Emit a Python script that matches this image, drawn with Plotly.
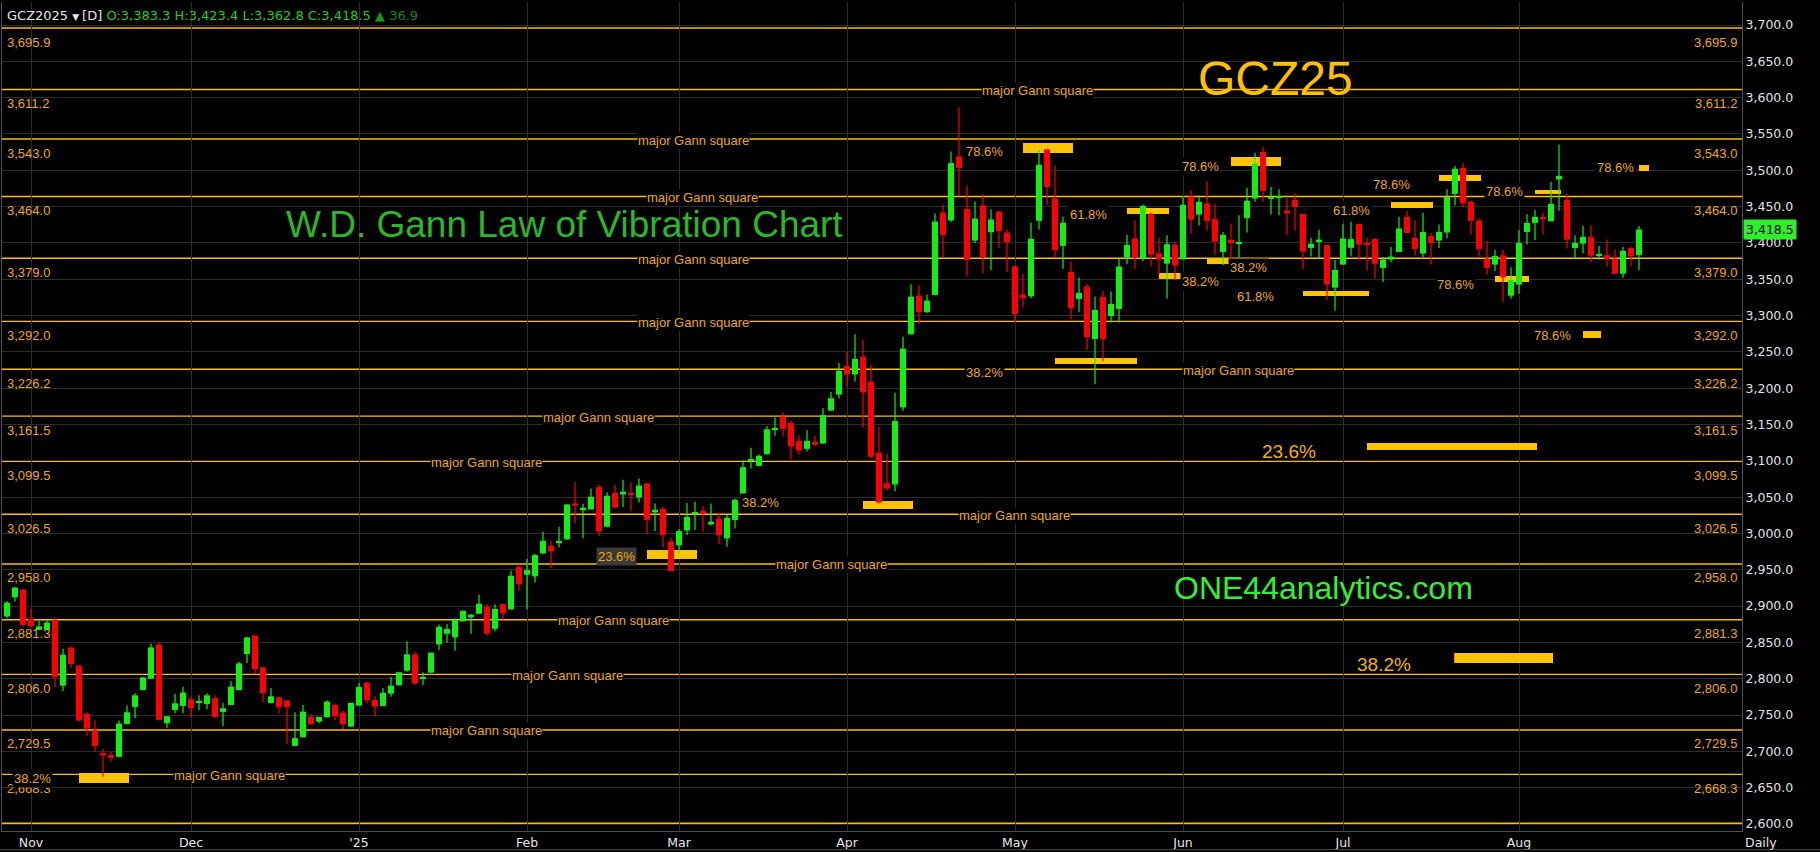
import pandas as pd
import plotly.graph_objects as go

# ---------------- data ----------------
holidays = ["2024-11-28", "2024-12-25", "2025-01-01", "2025-01-20", "2025-02-17",
            "2025-04-18", "2025-05-26", "2025-06-19", "2025-07-04"]
dates = [d for d in pd.bdate_range("2024-10-29", "2025-08-22")
         if d.strftime("%Y-%m-%d") not in holidays]

open_ = [2885.7, 2912.2, 2922.8, 2882.5, 2867.4, 2867.4, 2881.1, 2790.5, 2843.1, 2818.4,
         2751.6, 2729.2, 2697.6, 2694.8, 2692.5, 2737.8, 2761.2, 2784.5, 2800.1, 2847.2,
         2738.8, 2757.1, 2762.6, 2771.7, 2766.7, 2765.3, 2773.1, 2754.3, 2764.0, 2784.5,
         2834.0, 2859.6, 2815.7, 2766.7, 2774.5, 2770.3, 2707.6, 2719.4, 2747.4, 2741.0,
         2746.9, 2763.9, 2753.3, 2734.1, 2763.0, 2794.6, 2770.8, 2762.6, 2779.5, 2791.0,
         2811.1, 2833.6, 2800.6, 2808.4, 2847.3, 2862.0, 2857.0, 2879.0, 2884.5, 2889.5,
         2899.1, 2868.9, 2902.8, 2895.5, 2953.7, 2943.2, 2940.9, 2972.5, 2983.0, 2987.6,
         2991.8, 3041.3, 3033.1, 3033.1, 3063.8, 3009.3, 3056.0, 3053.7, 3056.0, 3049.6,
         3068.9, 3029.0, 3034.0, 2989.1, 2983.6, 3004.2, 3027.2, 3030.8, 3012.5, 3020.3,
         2993.3, 3018.5, 3053.7, 3100.0, 3093.1, 3109.2, 3142.6, 3161.0, 3152.2, 3127.5,
         3116.5, 3126.1, 3123.8, 3169.2, 3191.2, 3230.6, 3218.9, 3243.4, 3209.0, 3111.1,
         3069.3, 3067.4, 3173.6, 3274.2, 3327.5, 3304.5, 3328.4, 3441.9, 3430.9, 3519.1,
         3447.0, 3403.3, 3451.6, 3414.8, 3443.3, 3414.3, 3367.5, 3328.9, 3326.6, 3430.4,
         3528.8, 3460.7, 3396.0, 3360.1, 3322.9, 3339.9, 3267.8, 3325.7, 3299.5, 3309.1,
         3380.3, 3406.1, 3378.4, 3440.0, 3385.8, 3371.5, 3397.3, 3377.5, 3463.9, 3439.1,
         3454.3, 3432.7, 3387.6, 3404.2, 3398.7, 3434.5, 3461.2, 3525.5, 3460.7, 3462.0,
         3444.2, 3459.3, 3440.0, 3393.1, 3402.3, 3397.3, 3338.4, 3370.2, 3393.3, 3426.2,
         3400.0, 3405.5, 3365.6, 3377.1, 3387.6, 3435.9, 3406.9, 3385.3, 3409.7, 3403.3,
         3414.3, 3467.6, 3503.5, 3456.6, 3430.8, 3378.4, 3370.2, 3383.0, 3327.4, 3342.6,
         3415.2, 3427.6, 3435.9, 3429.9, 3487.4, 3459.3, 3393.1, 3399.1, 3408.3, 3382.6,
         3383.0, 3378.4, 3357.7, 3393.1, 3383.3]

high = [2907.0, 2926.4, 2923.5, 2896.2, 2880.2, 2882.5, 2884.3, 2841.3, 2844.0, 2818.6,
        2753.9, 2742.9, 2703.5, 2699.0, 2742.4, 2763.5, 2780.0, 2802.0, 2848.6, 2850.0,
        2748.5, 2779.5, 2789.1, 2775.4, 2777.2, 2780.0, 2777.2, 2766.7, 2796.4, 2823.0,
        2857.0, 2860.0, 2816.0, 2787.3, 2775.0, 2770.5, 2754.0, 2763.9, 2751.5, 2747.5,
        2770.3, 2765.8, 2755.7, 2767.0, 2794.1, 2796.0, 2776.7, 2787.4, 2802.5, 2809.8,
        2851.5, 2837.3, 2808.9, 2836.0, 2874.8, 2875.8, 2883.1, 2894.0, 2889.1, 2915.6,
        2902.8, 2902.4, 2903.0, 2949.1, 2957.4, 2964.7, 2972.0, 3002.3, 2990.4, 3009.2,
        3040.4, 3071.1, 3040.9, 3062.0, 3067.0, 3056.9, 3066.6, 3073.9, 3070.2, 3075.7,
        3069.8, 3041.4, 3036.8, 2994.6, 3006.1, 3041.8, 3043.7, 3038.2, 3041.4, 3028.5,
        3025.3, 3048.2, 3100.9, 3117.9, 3109.2, 3148.1, 3159.6, 3166.5, 3155.9, 3135.3,
        3142.2, 3134.4, 3172.9, 3194.9, 3234.7, 3250.0, 3274.4, 3266.8, 3231.9, 3146.9,
        3109.7, 3193.8, 3271.0, 3343.1, 3341.3, 3328.9, 3440.5, 3452.5, 3526.0, 3586.7,
        3478.7, 3457.1, 3466.3, 3446.5, 3443.5, 3418.9, 3369.8, 3356.9, 3428.1, 3528.3,
        3529.0, 3506.7, 3435.9, 3374.4, 3352.3, 3343.6, 3326.1, 3333.9, 3333.0, 3379.0,
        3411.1, 3430.9, 3452.9, 3441.9, 3407.0, 3410.6, 3401.4, 3463.5, 3472.7, 3465.8,
        3484.2, 3453.8, 3415.2, 3426.7, 3438.2, 3475.9, 3524.2, 3532.4, 3477.3, 3474.0,
        3461.2, 3468.1, 3440.2, 3407.0, 3418.0, 3397.5, 3376.6, 3425.8, 3429.0, 3426.4,
        3407.0, 3405.7, 3380.7, 3394.5, 3435.9, 3443.7, 3431.3, 3441.4, 3413.8, 3425.3,
        3474.0, 3506.2, 3510.4, 3458.9, 3433.6, 3402.8, 3390.4, 3390.4, 3366.5, 3417.5,
        3439.6, 3445.5, 3441.4, 3484.2, 3535.6, 3467.6, 3410.6, 3423.5, 3424.4, 3395.9,
        3404.6, 3390.8, 3394.5, 3394.9, 3423.4]

low = [2883.4, 2906.3, 2872.0, 2871.0, 2867.0, 2867.0, 2788.6, 2783.2, 2814.7, 2742.0,
       2721.4, 2699.4, 2665.1, 2685.7, 2692.0, 2737.0, 2746.1, 2784.0, 2800.0, 2743.0,
       2732.4, 2752.5, 2752.5, 2747.0, 2757.1, 2758.5, 2746.1, 2734.6, 2764.0, 2784.0,
       2821.6, 2806.5, 2768.0, 2766.0, 2752.5, 2709.8, 2707.0, 2719.0, 2737.0, 2738.7,
       2746.5, 2742.8, 2730.9, 2734.0, 2762.8, 2765.8, 2748.3, 2762.0, 2775.3, 2790.8,
       2809.8, 2791.5, 2791.0, 2808.0, 2839.1, 2849.6, 2838.6, 2878.8, 2862.0, 2889.0,
       2859.2, 2865.3, 2881.7, 2895.0, 2921.2, 2895.5, 2932.6, 2972.0, 2952.8, 2980.8,
       2991.5, 3013.8, 2993.3, 3033.0, 2996.5, 3008.4, 3034.5, 3036.3, 3031.7, 3042.7,
       2999.2, 3003.3, 2980.9, 2948.0, 2972.6, 2997.8, 3004.7, 3002.4, 3010.7, 2985.5,
       2981.8, 3007.0, 3044.6, 3089.5, 3092.2, 3108.3, 3134.4, 3133.5, 3101.8, 3108.3,
       3112.8, 3120.6, 3123.5, 3169.0, 3185.7, 3202.0, 3209.0, 3146.0, 3103.3, 3041.2,
       3058.7, 3058.2, 3169.0, 3274.0, 3288.0, 3304.0, 3328.0, 3380.3, 3428.6, 3465.3,
       3353.7, 3399.6, 3358.3, 3362.9, 3392.7, 3360.1, 3290.3, 3311.0, 3323.8, 3418.0,
       3452.5, 3380.8, 3364.3, 3294.9, 3304.5, 3252.6, 3205.3, 3237.4, 3290.3, 3290.3,
       3370.7, 3364.3, 3374.7, 3367.9, 3356.4, 3323.3, 3348.5, 3377.0, 3412.9, 3423.9,
       3417.0, 3383.9, 3369.2, 3376.6, 3378.4, 3414.3, 3456.6, 3456.6, 3439.1, 3438.0,
       3410.6, 3417.0, 3363.7, 3381.2, 3379.3, 3321.0, 3306.7, 3370.0, 3382.2, 3377.0,
       3361.9, 3350.8, 3346.2, 3373.8, 3387.4, 3413.6, 3383.0, 3380.7, 3370.2, 3393.1,
       3406.0, 3452.0, 3448.8, 3411.5, 3381.2, 3356.4, 3361.4, 3318.7, 3323.3, 3330.2,
       3397.7, 3403.7, 3411.5, 3429.5, 3444.2, 3392.2, 3379.3, 3385.3, 3373.8, 3377.0,
       3367.9, 3357.5, 3352.2, 3367.9, 3362.8]

close = [2904.9, 2925.5, 2874.2, 2872.0, 2872.0, 2877.4, 2802.4, 2833.0, 2820.2, 2742.4,
         2731.4, 2707.6, 2694.4, 2691.2, 2738.3, 2753.9, 2777.2, 2801.9, 2843.1, 2743.3,
         2748.4, 2766.2, 2780.9, 2759.8, 2769.0, 2777.2, 2747.5, 2759.4, 2789.1, 2821.1,
         2856.9, 2813.4, 2780.4, 2775.8, 2761.2, 2761.2, 2718.2, 2754.7, 2737.3, 2747.4,
         2768.5, 2748.3, 2737.3, 2766.7, 2788.6, 2770.3, 2761.6, 2780.5, 2790.5, 2808.9,
         2833.6, 2793.7, 2802.0, 2835.9, 2871.6, 2868.4, 2880.8, 2893.6, 2888.1, 2903.3,
         2862.0, 2896.0, 2890.0, 2941.8, 2929.9, 2949.6, 2970.2, 2989.9, 2975.2, 2989.9,
         3040.0, 3038.5, 3035.4, 3050.5, 3002.9, 3051.9, 3035.9, 3057.4, 3053.3, 3066.1,
         3018.9, 3032.7, 2997.8, 2948.4, 3003.3, 3022.6, 3028.5, 3027.2, 3016.2, 2997.8,
         3021.7, 3046.4, 3091.3, 3101.8, 3106.9, 3143.5, 3144.0, 3144.0, 3119.7, 3114.2,
         3127.5, 3122.0, 3162.8, 3186.2, 3223.7, 3218.9, 3240.2, 3194.2, 3105.6, 3042.6,
         3061.9, 3154.7, 3254.4, 3326.1, 3304.5, 3320.6, 3429.5, 3410.7, 3509.9, 3503.0,
         3376.7, 3433.6, 3380.3, 3432.3, 3416.2, 3401.0, 3301.8, 3323.8, 3405.6, 3507.6,
         3476.8, 3390.0, 3427.7, 3310.0, 3331.2, 3270.1, 3307.7, 3267.8, 3316.0, 3367.5,
         3397.3, 3380.3, 3451.1, 3383.9, 3377.5, 3398.2, 3368.8, 3452.4, 3432.2, 3456.6,
         3430.4, 3401.9, 3411.1, 3399.6, 3400.0, 3458.0, 3509.4, 3471.7, 3463.5, 3463.0,
         3440.5, 3449.7, 3388.1, 3398.7, 3404.6, 3342.6, 3362.8, 3406.0, 3405.2, 3397.7,
         3397.7, 3371.5, 3377.1, 3381.2, 3419.8, 3413.8, 3391.8, 3415.2, 3400.0, 3415.2,
         3463.5, 3502.1, 3454.3, 3430.4, 3391.8, 3365.6, 3382.1, 3352.7, 3349.0, 3400.0,
         3427.6, 3435.9, 3433.6, 3453.8, 3492.4, 3404.6, 3400.0, 3408.3, 3382.6, 3383.5,
         3377.5, 3357.7, 3389.0, 3381.6, 3418.5]

# Gann square levels
gann_levels = [3695.9, 3611.2, 3543.0, 3464.0, 3379.0, 3292.0, 3226.2, 3161.5,
               3099.5, 3026.5, 2958.0, 2881.3, 2806.0, 2729.5, 2668.3]
unlabeled_levels = [2601.0]
gann_note_levels = [3611.2, 3543.0, 3464.0, 3379.0, 3292.0, 3226.2, 3161.5,
                    3099.5, 3026.5, 2958.0, 2881.3, 2806.0, 2729.5, 2668.3]
gann_note_x = [128.75, 85.75, 86.9, 85.8, 85.8, 153.9, 73.9,
               59.9, 125.9, 103.0, 75.8, 70.0, 59.9, 27.8]

# Fibonacci marker bars (bar-index span, price span)
fib_bar_x0 = [9.0, 80.0, 107.0, 127.0, 140.0, 131.0, 144.0, 150.0, 153.0, 162.0,
              173.0, 179.0, 191.0, 204.0, 186.0, 197.0, 170.0, 180.9]
fib_bar_x1 = [15.25, 86.25, 113.25, 133.25, 145.25, 141.25, 147.0, 153.0, 159.25, 170.25,
              178.25, 184.25, 194.25, 205.25, 190.25, 199.25, 191.25, 193.25]
fib_bar_hi = [2670.3, 2977.3, 3044.7, 3537.6, 3448.1, 3241.6, 3358.6, 3379.2, 3518.3, 3333.8,
              3456.3, 3493.5, 3472.9, 3507.3, 3354.5, 3278.7, 3124.6, 2835.5]
fib_bar_lo = [2656.5, 2964.9, 3033.7, 3523.8, 3439.8, 3233.3, 3350.4, 3370.9, 3505.9, 3326.9,
              3448.1, 3485.2, 3467.3, 3499.0, 3346.2, 3269.1, 3114.9, 2821.7]

# Fibonacci labels
fib_text = ["38.2%", "23.6%", "38.2%", "78.6%", "61.8%", "38.2%", "78.6%", "78.6%",
            "61.8%", "38.2%", "38.2%", "61.8%", "78.6%", "78.6%", "78.6%", "78.6%"]
fib_x = [1.0, 74.0, 92.0, 120.0, 133.0, 120.0, 147.0, 170.9,
         165.9, 147.0, 153.0, 153.9, 185.0, 198.9, 178.9, 191.0]
fib_y = [2662.0, 2969.0, 3042.0, 3525.2, 3439.8, 3222.3, 3505.9, 3481.1,
         3445.3, 3347.6, 3365.5, 3325.6, 3471.5, 3504.5, 3343.4, 3271.9]
big_fib_text = ["23.6%", "38.2%"]
big_fib_x = [157.0, 168.9]
big_fib_y = [3112.2, 2820.3]

# ---------------- figure ----------------
assert len(dates) == len(open_) == len(high) == len(low) == len(close)
n = len(dates)
idx = list(range(n))

AX_FONT = "DejaVu Sans"
LBL_FONT = "Liberation Sans, Arial, sans-serif"
GOLD_TXT = "#eeaa00"
GOLD_LINE = "#ffbe00"
GOLD_BAR = "#ffc400"
UP = "#11f011"
DN = "#ff0000"

# month ticks: first trading day of each new month
tickvals, ticktext = [], []
for i in range(1, n):
    if dates[i].month != dates[i - 1].month:
        tickvals.append(i)
        ticktext.append("'" + dates[i].strftime("%y") if dates[i].month == 1
                        else dates[i].strftime("%b"))

fig = go.Figure()

up_i = [i for i in idx if close[i] >= open_[i]]
dn_i = [i for i in idx if close[i] < open_[i]]


def body(ids):
    base = [min(open_[i], close[i]) for i in ids]
    h = [max(abs(close[i] - open_[i]), 1.6) for i in ids]
    return base, h


def wick(ids):
    xs, ys = [], []
    for i in ids:
        xs += [i, i, None]
        ys += [low[i], high[i], None]
    return xs, ys


for ids, col in ((up_i, UP), (dn_i, DN)):
    wx, wy = wick(ids)
    fig.add_trace(go.Scatter(x=wx, y=wy, mode="lines", line=dict(color=col, width=1.2),
                             hoverinfo="skip"))
for ids, col in ((up_i, UP), (dn_i, DN)):
    b, h = body(ids)
    fig.add_trace(go.Bar(x=ids, y=h, base=b, width=0.75, marker=dict(color=col, line_width=0),
                         hoverinfo="skip"))

shapes = []
for lv in gann_levels + unlabeled_levels:
    shapes.append(dict(type="line", xref="paper", x0=0, x1=1, yref="y", y0=lv, y1=lv,
                       line=dict(color=GOLD_LINE, width=1.4), layer="between"))
for x0, x1, lo, hi in zip(fib_bar_x0, fib_bar_x1, fib_bar_lo, fib_bar_hi):
    shapes.append(dict(type="rect", xref="x", yref="y", x0=x0, x1=x1, y0=lo, y1=hi,
                       fillcolor=GOLD_BAR, line=dict(width=0), layer="between"))
# window frame bottom edge
shapes.append(dict(type="line", xref="paper", yref="paper", x0=-0.002, x1=1.045,
                   y0=-0.0225, y1=-0.0225, line=dict(color="#4a4a4a", width=1)))

ann = []
# level value labels (left & right, just under each line)
for lv in gann_levels:
    txt = f"{lv:,.1f}"
    ann.append(dict(xref="paper", x=0, xanchor="left", xshift=3, yref="y", y=lv,
                    yanchor="middle", yshift=-14, text=txt, showarrow=False,
                    font=dict(family=LBL_FONT, size=13, color=GOLD_TXT)))
    ann.append(dict(xref="paper", x=1, xanchor="right", xshift=-3, yref="y", y=lv,
                    yanchor="middle", yshift=-14, text=txt, showarrow=False,
                    font=dict(family=LBL_FONT, size=13, color=GOLD_TXT)))
for lv, gx in zip(gann_note_levels, gann_note_x):
    ann.append(dict(xref="x", x=gx, xanchor="center", yref="y", y=lv, yanchor="middle",
                    yshift=-1, text="major Gann square", showarrow=False, bgcolor="black",
                    borderpad=0, font=dict(family=LBL_FONT, size=13, color=GOLD_TXT)))
for k, (t, fx, fy) in enumerate(zip(fib_text, fib_x, fib_y)):
    ann.append(dict(xref="x", x=fx, xanchor="left", xshift=-3, yref="y", y=fy,
                    yanchor="middle", text=t, showarrow=False,
                    bgcolor="#3a3a3a" if k == 1 else "black", borderpad=1,
                    font=dict(family=LBL_FONT, size=13, color=GOLD_TXT)))
for t, fx, fy in zip(big_fib_text, big_fib_x, big_fib_y):
    ann.append(dict(xref="x", x=fx, xanchor="left", xshift=-3, yref="y", y=fy,
                    yanchor="middle", text=t, showarrow=False,
                    font=dict(family=LBL_FONT, size=19, color="#f2b200")))

# titles / watermark texts
ann.append(dict(xref="x", x=35.0, xanchor="left", xshift=-3, yref="y", y=3426.0,
                yanchor="middle", text="W.D. Gann Law of Vibration Chart", showarrow=False,
                font=dict(family="Liberation Sans, Arial, sans-serif", size=37, color="#2ab82a")))
ann.append(dict(xref="x", x=149.0, xanchor="left", xshift=-3, yref="y", y=3625.7,
                yanchor="middle", text="GCZ25", showarrow=False,
                font=dict(family="Liberation Sans, Arial, sans-serif", size=48, color="#ffc000")))
ann.append(dict(xref="x", x=146.0, xanchor="left", xshift=-3, yref="y", y=2925.0,
                yanchor="middle", text="ONE44analytics.com", showarrow=False,
                font=dict(family="Liberation Sans, Arial, sans-serif",
                          size=32, color="#33f033")))

# header OHLC line
o, h, l, c = open_[-1], high[-1], low[-1], close[-1]
chg = c - close[-2]
header = (f"<span style='color:#e6e6e6'>GCZ2025 </span>"
          f"<span style='color:#e6e6e6;font-size:9px'>▼ </span>"
          f"<span style='color:#e6e6e6'>[D] </span>"
          f"<span style='color:#1fcf1f'>O:{o:,.1f} H:{h:,.1f} L:{l:,.1f} C:{c:,.1f} </span>"
          f"<span style='color:#159a15'>▲ </span>"
          f"<span style='color:#128812'>{chg:,.1f}</span>")
ann.append(dict(xref="paper", x=0, xanchor="left", xshift=3, yref="paper", y=1,
                yanchor="middle", yshift=-13, text=header, showarrow=False,
                font=dict(family=AX_FONT, size=13, color="#e6e6e6")))
# last price tag
ann.append(dict(xref="paper", x=1, xanchor="left", xshift=1, yref="y", y=c,
                yanchor="middle", text=f"{c:,.1f}", showarrow=False, bgcolor="#2cf02c",
                borderpad=2, font=dict(family=AX_FONT, size=12.5, color="black")))
# "Daily" label
ann.append(dict(xref="paper", x=1, xanchor="left", xshift=1, yref="paper", y=0,
                yanchor="top", yshift=-2, text="Daily", showarrow=False,
                font=dict(family=AX_FONT, size=12.5, color="#e6e6e6")))

fig.update_layout(
    width=1820, height=852,
    margin=dict(l=2, r=78, t=2, b=21, autoexpand=False),
    paper_bgcolor="black", plot_bgcolor="black",
    showlegend=False, barmode="overlay", hovermode=False,
    shapes=shapes, annotations=ann,
    xaxis=dict(range=[-0.625, 216.875], tickmode="array", tickvals=tickvals, ticktext=ticktext,
               showgrid=True, gridcolor="#2c2c2c", gridwidth=1, zeroline=False,
               showline=True, linecolor="#505050", linewidth=1, ticks="", automargin=False,
               tickfont=dict(family=AX_FONT, size=12.5, color="#e6e6e6"), fixedrange=True),
    yaxis=dict(side="right", range=[2590.4, 3731.7], tick0=0, dtick=50, tickformat=",.1f",
               showgrid=True, gridcolor="#2c2c2c", gridwidth=1, zeroline=False,
               showline=True, linecolor="#505050", linewidth=1, mirror=True, ticks="",
               automargin=False,
               tickfont=dict(family=AX_FONT, size=12.5, color="#e0e0e0"), fixedrange=True),
)

post = "document.body.style.margin='0';document.body.style.overflow='hidden';"
fig.write_html("out.html", config={"displayModeBar": False}, post_script=post)
